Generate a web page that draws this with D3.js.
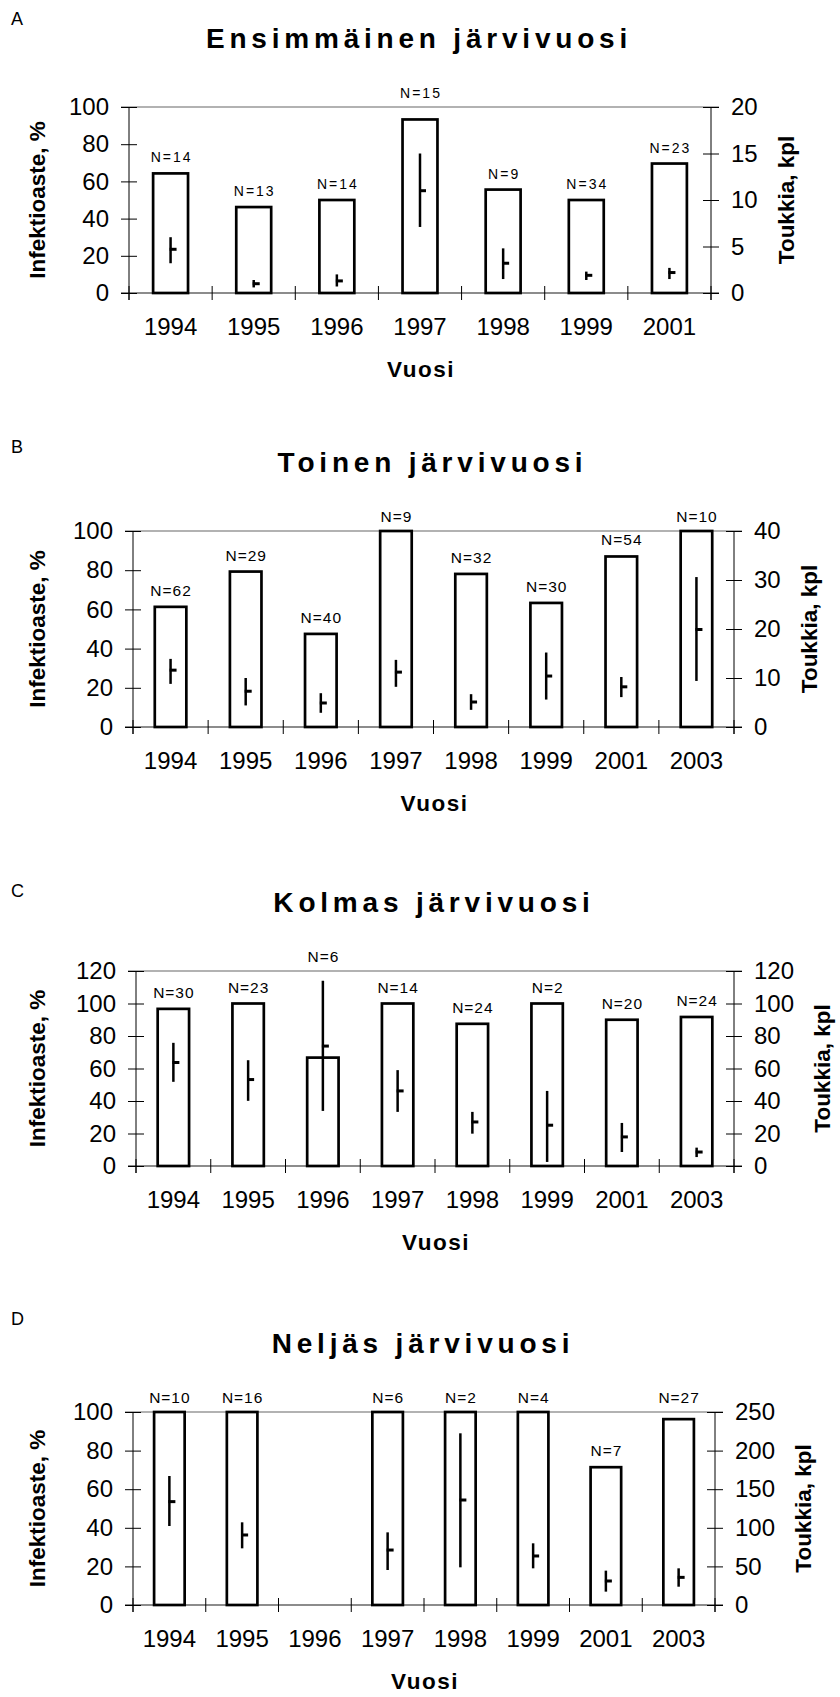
<!DOCTYPE html>
<meta charset="utf-8">
<style>
body { margin: 0; background: #fff; }
svg { display: block; font-family: "Liberation Sans", Arial, Helvetica, sans-serif; }
.tick text { font-size: 24px; fill: #000; }
.title { font-size: 28px; font-weight: bold; letter-spacing: 4.8px; }
.axis-title { font-size: 22.5px; font-weight: bold; }
.bar { fill: #fff; stroke: #000; stroke-width: 2.7px; }
.err { stroke: #000; stroke-width: 2.5px; }
.mean { stroke: #000; stroke-width: 3px; }
</style>
<svg width="840" height="1697"></svg>
<script src="https://cdn.jsdelivr.net/npm/d3@7"></script>
<script>

// A: Ensimmäinen järvivuosi
var yearsA = ["1994", "1995", "1996", "1997", "1998", "1999", "2001"];
var infA   = [64.3, 46.2, 50, 93.3, 55.6, 50, 69.6];
var nA     = [14, 13, 14, 15, 9, 34, 23];
var meanA  = [4.7, 1.0, 1.3, 11.0, 3.2, 1.9, 2.2];
var lowA   = [3.2, 0.6, 0.7, 7.1, 1.5, 1.4, 1.5];
var highA  = [6.0, 1.4, 2.0, 15.0, 4.8, 2.3, 2.7];

// B: Toinen järvivuosi
var yearsB = ["1994", "1995", "1996", "1997", "1998", "1999", "2001", "2003"];
var infB   = [61.3, 79.3, 47.5, 100, 78.1, 63.3, 87.0, 100];
var nB     = [62, 29, 40, 9, 32, 30, 54, 10];
var meanB  = [11.6, 7.3, 4.9, 11.2, 5.1, 10.4, 8.2, 19.9];
var lowB   = [8.8, 4.4, 2.9, 8.2, 3.5, 5.6, 6.1, 9.4];
var highB  = [13.9, 10.0, 6.9, 13.7, 6.7, 15.2, 10.2, 30.6];

// C: Kolmas järvivuosi
var yearsC = ["1994", "1995", "1996", "1997", "1998", "1999", "2001", "2003"];
var infC   = [96.7, 100, 66.7, 100, 87.5, 100, 90, 91.7];
var nC     = [30, 23, 6, 14, 24, 2, 20, 24];
var meanC  = [63.7, 53.2, 73.8, 46.2, 27.1, 25.1, 17.9, 8.6];
var lowC   = [51.8, 40.1, 33.9, 33.3, 19.9, 2.5, 8.6, 5.5];
var highC  = [75.8, 65.1, 114.0, 59.0, 33.3, 46.2, 26.5, 11.3];

// D: Neljäs järvivuosi (no 1996 data)
var yearsD = ["1994", "1995", "1996", "1997", "1998", "1999", "2001", "2003"];
var infD   = [100, 100, null, 100, 100, 100, 71.4, 96.3];
var nD     = [10, 16, null, 6, 2, 4, 7, 27];
var meanD  = [133.9, 90.7, null, 71.2, 136.0, 63.5, 31.1, 35.8];
var lowD   = [102.3, 73.4, null, 45.3, 48.8, 47.5, 17.3, 23.7];
var highD  = [167.1, 107.1, null, 94.1, 222.4, 79.9, 44.5, 47.5];

var svg = d3.select("svg");

var panels = [
  {letter: "A", title: "Ensimmäinen järvivuosi", years: yearsA, inf: infA, n: nA, mean: meanA, low: lowA, high: highA,
   leftMax: 100, rightMax: 20, rightStep: 5, left: 129, right: 711, top: 107, bottom: 293, letterY: 25, nSize: 14, nSpacing: 2},
  {letter: "B", title: "Toinen järvivuosi", years: yearsB, inf: infB, n: nB, mean: meanB, low: lowB, high: highB,
   leftMax: 100, rightMax: 40, rightStep: 10, left: 133, right: 734, top: 531, bottom: 727, letterY: 453, nSize: 15.5, nSpacing: 1},
  {letter: "C", title: "Kolmas järvivuosi", years: yearsC, inf: infC, n: nC, mean: meanC, low: lowC, high: highC,
   leftMax: 120, rightMax: 120, rightStep: 20, left: 136, right: 734, top: 971, bottom: 1166, letterY: 897, nSize: 15.5, nSpacing: 1},
  {letter: "D", title: "Neljäs järvivuosi", years: yearsD, inf: infD, n: nD, mean: meanD, low: lowD, high: highD,
   leftMax: 100, rightMax: 250, rightStep: 50, left: 133, right: 715, top: 1412, bottom: 1605, letterY: 1325, nSize: 15.5, nSpacing: 1}
];

panels.forEach(drawPanel);

function drawPanel(p) {
  var x = d3.scaleBand().domain(p.years).range([p.left, p.right]);
  var y = d3.scaleLinear().domain([0, p.leftMax]).range([p.bottom, p.top]);
  var y2 = d3.scaleLinear().domain([0, p.rightMax]).range([p.bottom, p.top]);
  var bw = x.bandwidth() * 0.42;
  var cx = (p.left + p.right) / 2;
  var g = svg.append("g");

  var rows = p.years.map(function(yr, i) {
    return {year: yr, inf: p.inf[i], n: p.n[i], mean: p.mean[i], low: p.low[i], high: p.high[i],
            mid: x(yr) + x.bandwidth() / 2};
  });
  var filled = rows.filter(function(d) { return d.inf != null; });

  g.append("text").attr("x", 11).attr("y", p.letterY).attr("font-size", 18).text(p.letter);

  g.append("text").attr("class", "title")
    .attr("x", cx - 1).attr("y", p.top - 59)
    .attr("text-anchor", "middle").text(p.title);

  // top line and zero line
  g.append("line").attr("x1", p.left - 8).attr("x2", p.right + 8)
    .attr("y1", p.top).attr("y2", p.top).attr("stroke", "#999").attr("stroke-width", 1.5);
  g.append("line").attr("x1", p.left - 8).attr("x2", p.right + 8)
    .attr("y1", p.bottom).attr("y2", p.bottom).attr("stroke", "#666").attr("stroke-width", 1.5);

  // category ticks on x axis
  var bounds = p.years.map(function(yr) { return x(yr); }).concat([p.right]);
  g.selectAll(".xtick").data(bounds).enter().append("line")
    .attr("x1", function(d) { return d; }).attr("x2", function(d) { return d; })
    .attr("y1", p.bottom - 7).attr("y2", p.bottom + 7)
    .attr("stroke", "#000").attr("stroke-width", 1);

  // vertical axes
  [p.left, p.right].forEach(function(ax) {
    g.append("line").attr("x1", ax).attr("x2", ax).attr("y1", p.top).attr("y2", p.bottom + 7)
      .attr("stroke", "#000").attr("stroke-width", 1);
  });

  var la = g.append("g").attr("transform", "translate(" + p.left + ",0)")
    .call(d3.axisLeft(y).tickValues(d3.range(0, p.leftMax + 1, 20)).tickSize(8).tickPadding(12));
  la.select(".domain").remove();
  la.selectAll(".tick line").attr("x1", 8).attr("stroke", "#000");

  var ra = g.append("g").attr("transform", "translate(" + p.right + ",0)")
    .call(d3.axisRight(y2).tickValues(d3.range(0, p.rightMax + 1, p.rightStep)).tickSize(8).tickPadding(12));
  ra.select(".domain").remove();
  ra.selectAll(".tick line").attr("x1", -8).attr("stroke", "#000");

  svg.selectAll(".tick text").attr("font-family", null).attr("font-size", null);

  // bars
  g.selectAll(".bar").data(filled).enter().append("rect")
    .attr("class", "bar")
    .attr("x", function(d) { return d.mid - bw / 2; })
    .attr("y", function(d) { return y(d.inf); })
    .attr("width", bw)
    .attr("height", function(d) { return p.bottom - y(d.inf); });

  // range lines with mean marks (right axis)
  g.selectAll(".err").data(filled).enter().append("line")
    .attr("class", "err")
    .attr("x1", function(d) { return d.mid; }).attr("x2", function(d) { return d.mid; })
    .attr("y1", function(d) { return y2(d.low); }).attr("y2", function(d) { return y2(d.high); });
  g.selectAll(".mean").data(filled).enter().append("line")
    .attr("class", "mean")
    .attr("x1", function(d) { return d.mid - 1; }).attr("x2", function(d) { return d.mid + 6; })
    .attr("y1", function(d) { return y2(d.mean); }).attr("y2", function(d) { return y2(d.mean); });

  // N labels
  g.selectAll(".nlabel").data(filled).enter().append("text")
    .attr("class", "nlabel")
    .attr("x", function(d) { return d.mid + p.nSpacing / 2; })
    .attr("y", function(d) {
      var t = Math.min(y(d.inf), y2(d.high));
      var b = t - 11;
      if (b - 11 < p.top + 2) b = p.top - 9;
      return b;
    })
    .attr("text-anchor", "middle")
    .attr("font-size", p.nSize)
    .attr("letter-spacing", p.nSpacing)
    .text(function(d) { return "N=" + d.n; });

  // year labels
  g.selectAll(".year").data(rows).enter().append("text")
    .attr("x", function(d) { return d.mid; })
    .attr("y", p.bottom + 42)
    .attr("text-anchor", "middle")
    .attr("font-size", 24)
    .text(function(d) { return d.year; });

  g.append("text").attr("class", "axis-title")
    .attr("x", cx + 1).attr("y", p.bottom + 84)
    .attr("text-anchor", "middle").attr("letter-spacing", 1.5)
    .text("Vuosi");

  g.append("text").attr("class", "axis-title")
    .attr("transform", "translate(45," + ((p.top + p.bottom) / 2) + ") rotate(-90)")
    .attr("text-anchor", "middle")
    .text("Infektioaste, %");

  var maxW = d3.max(ra.selectAll(".tick text").nodes(), function(n) { return n.getComputedTextLength(); });
  g.append("text").attr("class", "axis-title")
    .attr("transform", "translate(" + (p.right + 20 + maxW + 36) + "," + ((p.top + p.bottom) / 2) + ") rotate(-90)")
    .attr("text-anchor", "middle")
    .text("Toukkia, kpl");
}
</script>
